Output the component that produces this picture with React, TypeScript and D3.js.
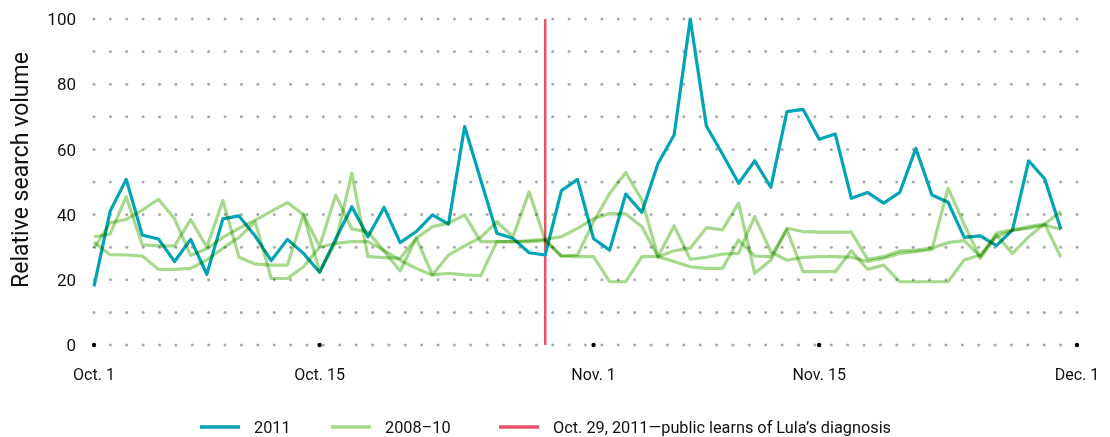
import React from "react";
import * as d3 from "d3";

const startDate = new Date(Date.UTC(2011, 9, 1));
const endDate = new Date(Date.UTC(2011, 11, 1));

const series2011 = [18, 41, 50.8, 33.7, 32.5, 25.6, 32.4, 21.7, 38.7, 39.6, 33.4, 25.9, 32.4, 28.1, 22.3, 32.5, 42.4, 33.2, 42.2, 31.4, 34.8, 39.9, 37.1, 67, 50.6, 34.3, 32.7, 28.3, 27.6, 47.3, 50.8, 32.6, 29.1, 46.3, 40.7, 55.7, 64.4, 100, 67.2, 58.6, 49.6, 56.5, 48.4, 71.6, 72.3, 63.1, 64.7, 45, 46.8, 43.5, 46.8, 60.3, 46, 43.8, 33, 33.5, 30.5, 35.3, 56.5, 50.9, 35.5];

const series2008a = [33.2, 34, 45.5, 30.7, 30.4, 30.4, 38.5, 30, 44.3, 26.9, 24.8, 24.5, 24.5, 40, 22.5, 31.5, 52.7, 27.1, 26.8, 26.6, 32.7, 36.3, 37.3, 39.9, 31.7, 31.7, 31.7, 32, 32.4, 33.2, 35.8, 38.8, 40.3, 40.2, 36.3, 27.1, 36.6, 26.3, 26.9, 27.9, 28.1, 39.4, 28.6, 26, 26.9, 27.1, 27.1, 26.9, 25.6, 26.6, 28.1, 28.6, 29.3, 48.1, 37, 26.6, 33.7, 28.1, 33.2, 37.1, 26.9];

const series2008b = [29.7, 37.5, 38.5, 41.4, 44.7, 38.7, 27.5, 29.5, 33, 35.8, 38.3, 41, 43.7, 40, 30.2, 46, 35.6, 34.7, 28.8, 22.7, 32.8, 21.5, 27.6, 30.4, 33, 37.8, 33.2, 47, 32.2, 27.3, 27.6, 37.8, 46.5, 52.9, 44.5, 27.1, 28.9, 29.7, 36, 35.3, 43.5, 22, 26, 35.8, 34.8, 34.6, 34.6, 34.6, 26.3, 27.1, 28.9, 29.1, 29.7, 31.4, 32, 27.1, 34.3, 35.3, 35.8, 36.8, 35.5];

const series2008c = [31.5, 27.7, 27.6, 27.3, 23.2, 23.2, 23.5, 26.1, 29.7, 33, 37.8, 20.4, 20.4, 24, 30, 31.2, 31.7, 31.7, 29, 26, 23.5, 21.5, 22, 21.5, 21.3, 31.7, 31.7, 31.7, 32, 27.3, 27.1, 27.1, 19.4, 19.4, 27.1, 27.1, 25.6, 24, 23.5, 23.5, 32.2, 27.3, 27.1, 35.3, 22.5, 22.5, 22.5, 28.9, 23.2, 24.5, 19.4, 19.4, 19.4, 19.4, 26.1, 27.6, 33.2, 35.1, 36.3, 37.1, 41];

const xTickDates = [new Date(Date.UTC(2011, 9, 1)), new Date(Date.UTC(2011, 9, 15)), new Date(Date.UTC(2011, 10, 1)), new Date(Date.UTC(2011, 10, 15)), new Date(Date.UTC(2011, 11, 1))];
const xTickLabels = ["Oct. 1", "Oct. 15", "Nov. 1", "Nov. 15", "Dec. 1"];
const yTicks = [0, 20, 40, 60, 80, 100];
const eventDate = new Date(Date.UTC(2011, 9, 29));
const legendItems = [
  { label: "2011", color: "#00a4b6" },
  { label: "2008–10", color: "#a6d98c" },
  { label: "Oct. 29, 2011—public learns of Lula’s diagnosis", color: "#e8536b" },
];

const W = 1110;
const H = 437;
const FONT = "Roboto, 'Noto Sans', sans-serif";

export default function App() {
  const days = d3.utcDay.range(startDate, endDate);
  const x = d3.scaleUtc().domain([startDate, endDate]).range([94, 1077]);
  const y = d3.scaleLinear().domain([0, 100]).range([345, 19]);

  const line = d3
    .line<number>()
    .x((_, i) => x(days[i]))
    .y((v) => y(v));

  const gridCols = d3.range(61).map((i) => 94 + (i * (1077 - 94)) / 60);
  const gridRows = d3.range(0, 101, 10);

  const teal = legendItems[0].color;
  const green = legendItems[1].color;
  const red = legendItems[2].color;

  const legendX = [200, 331, 499];

  return (
    <div style={{ position: "absolute", left: 0, top: 0 }}>
      <svg width={W} height={H} style={{ display: "block", background: "#fff" }}>
        <g>
          {gridRows.map((r) =>
            gridCols.map((c, j) => (
              <circle key={`${r}-${j}`} cx={c} cy={y(r)} r={1.5} fill="#a9a9a9" />
            ))
          )}
        </g>
        {xTickDates.map((d, i) => (
          <circle key={`t${i}`} cx={x(d)} cy={y(0)} r={2.2} fill="#000" />
        ))}
        <line x1={x(eventDate)} x2={x(eventDate)} y1={y(100)} y2={y(0)} stroke={red} strokeWidth={2.5} />
        <path d={line(series2011) || ""} fill="none" stroke={teal} strokeWidth={3.2} strokeLinejoin="round" />
        {[series2008a, series2008b, series2008c].map((s, i) => (
          <path
            key={`g${i}`}
            d={line(s) || ""}
            fill="none"
            stroke={green}
            strokeWidth={3.2}
            strokeLinejoin="round"
            style={{ mixBlendMode: "multiply" }}
          />
        ))}
        {yTicks.map((t) => (
          <text key={`y${t}`} x={76} y={y(t)} dy="0.36em" textAnchor="end" fontFamily={FONT} fontSize={17} fill="#111">
            {t}
          </text>
        ))}
        {xTickDates.map((d, i) => (
          <text key={`xl${i}`} x={x(d)} y={380} textAnchor="middle" fontFamily={FONT} fontSize={16} fill="#111">
            {xTickLabels[i]}
          </text>
        ))}
        <text
          transform={`translate(28, 170) rotate(-90)`}
          textAnchor="middle"
          fontFamily={FONT}
          fontSize={23}
          fill="#111"
        >
          Relative search volume
        </text>
        {legendItems.map((it, i) => (
          <g key={`lg${i}`}>
            <line x1={legendX[i]} x2={legendX[i] + 40} y1={427} y2={427} stroke={it.color} strokeWidth={3.5} />
            <text x={legendX[i] + 54} y={433} fontFamily={FONT} fontSize={16.3} fill="#111">
              {it.label}
            </text>
          </g>
        ))}
      </svg>
    </div>
  );
}
